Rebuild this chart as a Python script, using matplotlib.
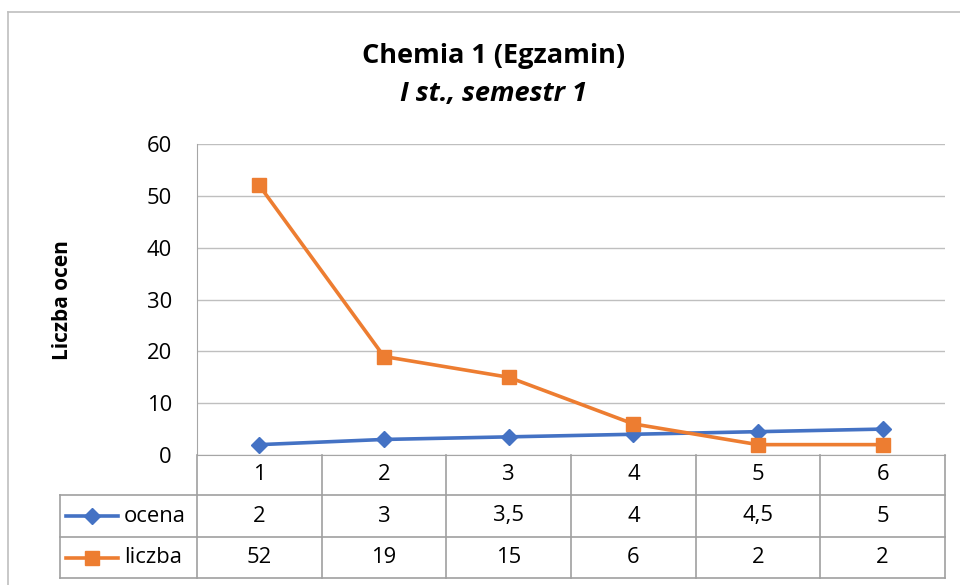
import matplotlib
matplotlib.use("Agg")
import matplotlib.pyplot as plt
from matplotlib.lines import Line2D

categories = [1, 2, 3, 4, 5, 6]
ocena = [2, 3, 3.5, 4, 4.5, 5]
liczba = [52, 19, 15, 6, 2, 2]
yticks = [0, 10, 20, 30, 40, 50, 60]

plt.rcParams['font.family'] = ['Open Sans', 'DejaVu Sans']

W, H = 960, 585
fig = plt.figure(figsize=(W / 100, H / 100), dpi=100)

def fx(px):
    return px / W

def fy(py):
    return 1 - py / H

FS = 15.8

# plot area in pixels
L, R, T, B = 197, 945, 144, 455
ax = fig.add_axes([fx(L), fy(B), fx(R) - fx(L), fy(T) - fy(B)])
ax.set_xlim(0.5, 6.5)
ax.set_ylim(0, 60)
ax.set_yticks(yticks)
ax.tick_params(axis='y', length=0, labelsize=FS, pad=18)
ax.set_xticks([])
ax.grid(axis='y', color='#bfbfbf', linewidth=1)
ax.set_axisbelow(True)
for s in ['top', 'right']:
    ax.spines[s].set_visible(False)
ax.spines['left'].set_color('#a6a6a6')
ax.spines['bottom'].set_color('#a6a6a6')

c_blue = '#4472C4'
c_orange = '#ED7D31'
ax.plot(categories, ocena, color=c_blue, lw=2.6, marker='D', ms=8.5, clip_on=False, zorder=3)
ax.plot(categories, liczba, color=c_orange, lw=2.6, marker='s', ms=10, clip_on=False, zorder=4)

fig.text(fx(62), fy(300), 'Liczba ocen', rotation=90, ha='center', va='center',
         fontsize=15, fontweight='bold')

# title
fig.text(fx(494), fy(56), 'Chemia 1 (Egzamin)', ha='center', va='center',
         fontsize=19.5, fontweight='bold')
fig.text(fx(494), fy(94), 'I st., semestr 1', ha='center', va='center',
         fontsize=19.5, fontweight='bold', style='italic')

# chart border
fig.add_artist(Line2D([fx(8), 1], [fy(12), fy(12)], color='#bfbfbf', lw=1.2))
fig.add_artist(Line2D([fx(8), fx(8)], [fy(12), 0], color='#bfbfbf', lw=1.2))

# data table
row_y = [455, 495, 537, 578]
tl = '#a0a0a0'
colw = (R - L) / len(categories)
for yy in row_y[1:]:
    fig.add_artist(Line2D([fx(60), fx(R)], [fy(yy), fy(yy)], color=tl, lw=1.2))
for i in range(len(categories) + 1):
    xx = L + i * colw
    fig.add_artist(Line2D([fx(xx), fx(xx)], [fy(455), fy(578)], color=tl, lw=1.2))
fig.add_artist(Line2D([fx(60), fx(60)], [fy(495), fy(578)], color=tl, lw=1.2))

def fmt(v):
    return ('%g' % v).replace('.', ',')

for i, c in enumerate(categories):
    cx = L + (i + 0.5) * colw
    fig.text(fx(cx), fy((row_y[0] + row_y[1]) / 2), str(c), ha='center', va='center', fontsize=FS)
    fig.text(fx(cx), fy((row_y[1] + row_y[2]) / 2), fmt(ocena[i]), ha='center', va='center', fontsize=FS)
    fig.text(fx(cx), fy((row_y[2] + row_y[3]) / 2), fmt(liczba[i]), ha='center', va='center', fontsize=FS)

# legend keys
for (name, col, mk, ms, r0, r1) in [('ocena', c_blue, 'D', 8.5, row_y[1], row_y[2]),
                                    ('liczba', c_orange, 's', 10, row_y[2], row_y[3])]:
    yc = fy((r0 + r1) / 2)
    fig.add_artist(Line2D([fx(66), fx(118)], [yc, yc], color=col, lw=2.6))
    fig.add_artist(Line2D([fx(92)], [yc], color=col, marker=mk, ms=ms, lw=0))
    fig.text(fx(124), yc, name, ha='left', va='center', fontsize=FS)

fig.savefig('out.png', dpi=100)
